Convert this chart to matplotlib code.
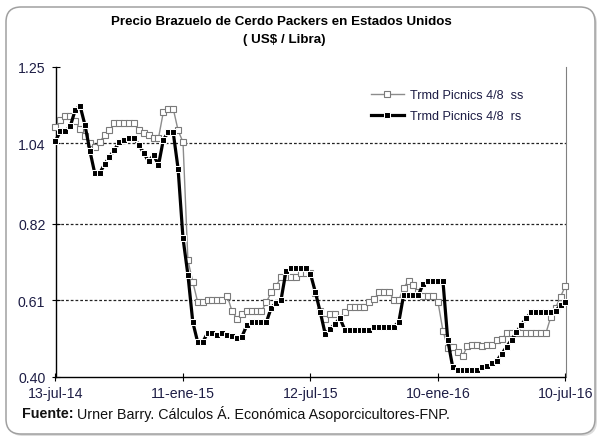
import matplotlib
matplotlib.use("Agg")
import matplotlib.pyplot as plt
import matplotlib.dates as mdates
import pandas as pd
from matplotlib.patches import FancyBboxPatch
from matplotlib.lines import Line2D

# Weekly quotes, 13-jul-2014 .. 10-jul-2016
weeks = pd.date_range("2014-07-13", periods=105, freq="7D")

picnic_ss = [
    1.085, 1.103, 1.115, 1.115, 1.100, 1.080, 1.060, 1.040, 1.030, 1.043,
    1.062, 1.075, 1.094, 1.094, 1.094, 1.094, 1.094, 1.075, 1.068, 1.062,
    1.054, 1.054, 1.126, 1.135, 1.135, 1.075, 1.043, 0.720, 0.660, 0.605,
    0.605, 0.610, 0.610, 0.610, 0.610, 0.623, 0.580, 0.560, 0.573, 0.580,
    0.580, 0.580, 0.580, 0.605, 0.632, 0.650, 0.673, 0.673, 0.673, 0.673,
    0.685, 0.685, 0.685, 0.630, 0.580, 0.560, 0.573, 0.573, 0.561, 0.577,
    0.591, 0.591, 0.591, 0.591, 0.605, 0.614, 0.632, 0.632, 0.632, 0.612,
    0.610, 0.645, 0.663, 0.652, 0.632, 0.623, 0.623, 0.623, 0.605, 0.527,
    0.480, 0.481, 0.469, 0.457, 0.484, 0.488, 0.488, 0.484, 0.488, 0.488,
    0.500, 0.504, 0.520, 0.520, 0.520, 0.520, 0.520, 0.520, 0.520, 0.520,
    0.520, 0.564, 0.590, 0.620, 0.650,
]

picnic_rs = [
    1.046, 1.073, 1.073, 1.086, 1.130, 1.143, 1.090, 1.020, 0.958, 0.958,
    0.982, 1.002, 1.022, 1.042, 1.048, 1.055, 1.055, 1.035, 1.013, 0.990,
    1.008, 0.980, 1.050, 1.070, 1.070, 0.970, 0.780, 0.680, 0.550, 0.495,
    0.495, 0.520, 0.520, 0.515, 0.520, 0.515, 0.513, 0.506, 0.510, 0.541,
    0.550, 0.550, 0.550, 0.550, 0.590, 0.603, 0.612, 0.689, 0.698, 0.698,
    0.698, 0.698, 0.682, 0.632, 0.577, 0.518, 0.532, 0.545, 0.561, 0.529,
    0.529, 0.529, 0.529, 0.529, 0.529, 0.536, 0.538, 0.538, 0.538, 0.538,
    0.550, 0.625, 0.625, 0.625, 0.625, 0.655, 0.664, 0.664, 0.664, 0.664,
    0.500, 0.427, 0.419, 0.419, 0.419, 0.419, 0.419, 0.428, 0.431, 0.437,
    0.445, 0.463, 0.483, 0.502, 0.522, 0.543, 0.561, 0.577, 0.577, 0.577,
    0.577, 0.577, 0.582, 0.596, 0.605,
]

series_labels = ["Trmd Picnics 4/8  ss", "Trmd Picnics 4/8  rs"]
tick_dates = ["2014-07-13", "2015-01-11", "2015-07-12", "2016-01-10", "2016-07-10"]
tick_labels = ["13-jul-14", "11-ene-15", "12-jul-15", "10-ene-16", "10-jul-16"]
y_ticks = [0.40, 0.61, 0.82, 1.04, 1.25]

plt.rcParams["font.family"] = ["Liberation Sans", "DejaVu Sans"]
label_color = "#1d1d45"

fig = plt.figure(figsize=(6.0, 4.39), dpi=100)

# rounded chart frame with a faint drop shadow
shadow = FancyBboxPatch((0.08, 0.02), 5.89, 4.27,
                        boxstyle="round,pad=0,rounding_size=0.15",
                        transform=fig.dpi_scale_trans, facecolor="#dcdcdc",
                        edgecolor="none", zorder=0)
frame = FancyBboxPatch((0.06, 0.04), 5.89, 4.27,
                       boxstyle="round,pad=0,rounding_size=0.15",
                       transform=fig.dpi_scale_trans, facecolor="white",
                       edgecolor="#a0a0a0", linewidth=1.1, zorder=0.5)
fig.patches.extend([shadow, frame])

ax = fig.add_axes([55.5 / 600, 61 / 439, 510 / 600, 310.5 / 439])
ax.set_zorder(2)
ax.set_facecolor("none")

x = mdates.date2num(weeks)

for level in y_ticks[1:-1]:
    ax.axhline(level, color="#222222", lw=0.9, ls=(0, (2.2, 1.6)), zorder=1)

ss_style = dict(color="#8c8c8c", lw=1.0, marker="s", ms=4.3,
                mfc="white", mec="#7a7a7a", mew=0.8)
rs_style = dict(color="black", lw=2.3, marker="s", ms=3.8,
                mfc="black", mec="white", mew=0.75)

ax.plot(x, picnic_ss, clip_on=False, zorder=3, **ss_style)
ax.plot(x, picnic_rs, clip_on=False, zorder=4, **rs_style)

ax.set_xlim(x[0], x[-1])
ax.set_ylim(y_ticks[0], y_ticks[-1])
ax.set_xticks(mdates.date2num(pd.to_datetime(tick_dates)))
ax.set_xticklabels(tick_labels)
ax.set_yticks(y_ticks)
ax.set_yticklabels([f"{v:.2f}" for v in y_ticks])

ax.tick_params(axis="both", direction="inout", length=6, width=0.8,
               labelsize=10.2, colors="black", labelcolor=label_color)
ax.tick_params(axis="y", pad=4.2)
ax.tick_params(axis="x", pad=3.2)

ax.spines["top"].set_visible(False)
ax.spines["left"].set_linewidth(1.0)
ax.spines["bottom"].set_linewidth(1.0)
ax.spines["right"].set_color("#808080")
ax.spines["right"].set_linewidth(0.8)

handles = [Line2D([], [], **ss_style), Line2D([], [], **rs_style)]
leg = ax.legend(handles, series_labels, loc="upper left",
                bbox_to_anchor=(371 / 600, 1 - 90 / 439),
                bbox_transform=fig.transFigure, frameon=False, fontsize=9.1,
                handlelength=2.6, handletextpad=0.45, labelspacing=0.75,
                borderpad=0, borderaxespad=0, numpoints=1)
for t in leg.get_texts():
    t.set_color(label_color)

fig.text(281 / 600, 1 - 22 / 439,
         "Precio Brazuelo de Cerdo Packers en Estados Unidos",
         ha="center", va="center", fontsize=9.6, fontweight="bold",
         color="black")
fig.text(284 / 600, 1 - 40 / 439, "( US$ / Libra)",
         ha="center", va="center", fontsize=9.6, fontweight="bold",
         color="black")

src = fig.text(22 / 600, 1 - 414 / 439, "Fuente:", ha="left", va="center",
               fontsize=10.3, fontweight="bold", color="#111111", zorder=3)
ax.annotate("Urner Barry. Cálculos Á. Económica Asoporcicultores-FNP.",
            xy=(1, 0.5), xycoords=src, xytext=(2.5, 0),
            textcoords="offset points", ha="left", va="center",
            fontsize=10.3, color="#111111", annotation_clip=False)

fig.savefig("out.png", dpi=100)
